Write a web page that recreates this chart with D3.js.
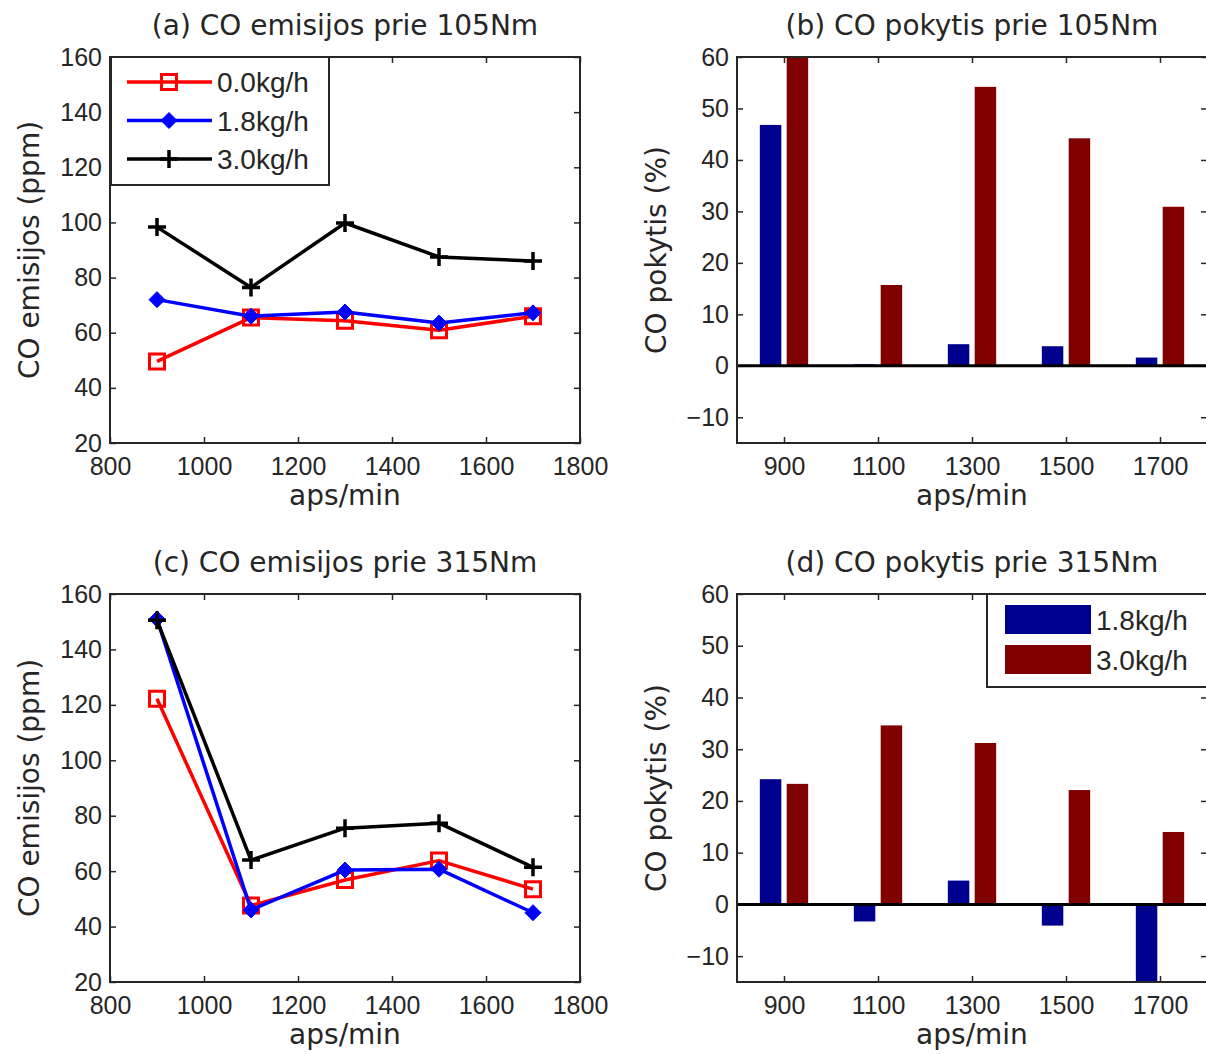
<!DOCTYPE html>
<html>
<head>
<meta charset="utf-8">
<script src="https://cdn.jsdelivr.net/npm/d3@7"></script>
<style>
  html, body { margin: 0; padding: 0; background: #fff; }
</style>
</head>
<body>
<svg id="chart" width="1206" height="1054"></svg>
<script>
// Data
const speeds = [900, 1100, 1300, 1500, 1700]
const flows = ["0.0kg/h", "1.8kg/h", "3.0kg/h"]
const barFlows = ["1.8kg/h", "3.0kg/h"]

const co105_00 = [49.6, 65.5, 64.3, 60.9, 66.0]
const co105_18 = [72.0, 66.0, 67.5, 63.5, 67.2]
const co105_30 = [98.3, 76.4, 99.8, 87.5, 86.0]

const co315_00 = [122.2, 47.6, 56.8, 63.8, 53.5]
const co315_18 = [151.0, 46.0, 60.4, 60.7, 45.0]
const co315_30 = [150.5, 64.0, 75.5, 77.3, 61.4]

const chg105_18 = [46.8, 0.3, 4.2, 3.8, 1.6]
const chg105_30 = [60.5, 15.7, 54.2, 44.2, 30.9]
const chg315_18 = [24.2, -3.3, 4.6, -4.1, -16.0]
const chg315_30 = [23.3, 34.6, 31.2, 22.1, 14.0]

const lineXTicks = [800, 1000, 1200, 1400, 1600, 1800]
const lineYTicks = [20, 40, 60, 80, 100, 120, 140, 160]
const barYTicks = [-10, 0, 10, 20, 30, 40, 50, 60]

// Config
const config = {
  ink: "#262626",
  tickFont: "'Liberation Sans', Arial, sans-serif",
  textFont: "'DejaVu Sans', Verdana, sans-serif",
  tickSize: 25,
  legendSize: 28,
  textSize: 28,
  tick: 6,
  lines: { colors: ["#ff0000", "#0000ff", "#000000"], width: 3.5 },
  bars: { colors: ["#00008f", "#800000"] },
}

const diamond = { draw(ctx, size) { const r = Math.sqrt(size) / 2; ctx.moveTo(0, -r); ctx.lineTo(r, 0); ctx.lineTo(0, r); ctx.lineTo(-r, 0); ctx.closePath() } }
const plus = { draw(ctx, size) { const r = Math.sqrt(size) / 2; ctx.moveTo(-r, 0); ctx.lineTo(r, 0); ctx.moveTo(0, -r); ctx.lineTo(0, r) } }
const markers = [
  { type: d3.symbolSquare, size: 15 * 15, fill: "none", width: 3 },
  { type: diamond, size: 16 * 16, fill: "#0000ff", width: 1 },
  { type: plus, size: 18 * 18, fill: "none", width: 3.5 },
]

const panels = [
  { kind: "line", title: "(a) CO emisijos prie 105Nm", ylabel: "CO emisijos (ppm)", box: { x: 110, y: 57, w: 470, h: 386 }, series: [co105_00, co105_18, co105_30], legend: true },
  { kind: "bar", title: "(b) CO pokytis prie 105Nm", ylabel: "CO pokytis (%)", box: { x: 737, y: 57, w: 470, h: 386 }, series: [chg105_18, chg105_30], legend: false },
  { kind: "line", title: "(c) CO emisijos prie 315Nm", ylabel: "CO emisijos (ppm)", box: { x: 110, y: 594, w: 470, h: 388 }, series: [co315_00, co315_18, co315_30], legend: false },
  { kind: "bar", title: "(d) CO pokytis prie 315Nm", ylabel: "CO pokytis (%)", box: { x: 737, y: 594, w: 470, h: 388 }, series: [chg315_18, chg315_30], legend: true },
]

const svg = d3.select("#chart")

/** Draws ticks on all four sides, labels on bottom and left. */
function frame(g, x, y, xTicks, yTicks, w, h) {
  const style = (s) => {
    s.select(".domain").remove()
    s.selectAll(".tick line").attr("stroke", config.ink).attr("stroke-width", 1.5)
    s.selectAll("text")
      .attr("font-family", config.tickFont)
      .attr("font-size", config.tickSize)
      .attr("fill", config.ink)
  }
  g.append("g").attr("transform", `translate(0,${h})`)
    .call(d3.axisBottom(x).tickValues(xTicks).tickSizeInner(-config.tick).tickSizeOuter(0).tickPadding(14).tickFormat(d3.format("d")))
    .call(style)
  g.append("g")
    .call(d3.axisTop(x).tickValues(xTicks).tickSizeInner(-config.tick).tickSizeOuter(0).tickFormat(""))
    .call(style)
  g.append("g")
    .call(d3.axisLeft(y).tickValues(yTicks).tickSizeInner(-config.tick).tickSizeOuter(0).tickPadding(8))
    .call(style)
  g.append("g").attr("transform", `translate(${w},0)`)
    .call(d3.axisRight(y).tickValues(yTicks).tickSizeInner(-config.tick).tickSizeOuter(0).tickFormat(""))
    .call(style)
}

/** Draws title and axis labels of a panel. */
function labels(p) {
  const { x, y, w, h } = p.box
  svg.append("text")
    .attr("x", x + w / 2).attr("y", y - 22)
    .attr("text-anchor", "middle")
    .attr("font-family", config.textFont).attr("font-size", config.textSize).attr("fill", config.ink)
    .text(p.title)
  svg.append("text")
    .attr("x", x + w / 2).attr("y", y + h + 62)
    .attr("text-anchor", "middle")
    .attr("font-family", config.textFont).attr("font-size", config.textSize).attr("fill", config.ink)
    .text("aps/min")
  svg.append("text")
    .attr("transform", `translate(${x - 71},${y + h / 2}) rotate(-90)`)
    .attr("text-anchor", "middle")
    .attr("font-family", config.textFont).attr("font-size", config.textSize).attr("fill", config.ink)
    .text(p.ylabel)
}

/** Draws a line panel. */
function lineChart(p) {
  const { x: left, y: top, w, h } = p.box
  const g = svg.append("g").attr("transform", `translate(${left},${top})`)
  const x = d3.scaleLinear().domain([800, 1800]).range([0, w])
  const y = d3.scaleLinear().domain([20, 160]).range([h, 0])
  frame(g, x, y, lineXTicks, lineYTicks, w, h)

  // Render series
  p.series.forEach((values, i) => {
    const color = config.lines.colors[i]
    const m = markers[i]
    const D = values.map((v, j) => [speeds[j], v])
    g.append("path")
      .datum(D)
      .attr("d", d3.line().x(d => x(d[0])).y(d => y(d[1])))
      .attr("fill", "none")
      .attr("stroke", color)
      .attr("stroke-width", config.lines.width)
      .attr("stroke-linejoin", "round")
    g.append("g")
      .selectAll("path")
      .data(D)
      .join("path")
      .attr("transform", d => `translate(${x(d[0])},${y(d[1])})`)
      .attr("d", d3.symbol(m.type, m.size))
      .attr("fill", m.fill)
      .attr("stroke", color)
      .attr("stroke-width", m.width)
  })

  // Render legend
  if (p.legend) {
    const lg = g.append("g")
    lg.append("rect")
      .attr("x", 1).attr("y", 0).attr("width", 218).attr("height", 128)
      .attr("fill", "#fff").attr("stroke", config.ink).attr("stroke-width", 2)
    flows.forEach((name, i) => {
      const cy = 25 + i * 38.5
      const m = markers[i]
      lg.append("line")
        .attr("x1", 17).attr("x2", 102).attr("y1", cy).attr("y2", cy)
        .attr("stroke", config.lines.colors[i]).attr("stroke-width", config.lines.width)
      lg.append("path")
        .attr("transform", `translate(59,${cy})`)
        .attr("d", d3.symbol(m.type, m.size))
        .attr("fill", m.fill)
        .attr("stroke", config.lines.colors[i])
        .attr("stroke-width", m.width)
      lg.append("text")
        .attr("x", 107).attr("y", cy)
        .attr("dy", "0.36em")
        .attr("font-family", config.tickFont).attr("font-size", config.legendSize).attr("fill", config.ink)
        .text(name)
    })
  }

  // Box
  g.append("rect")
    .attr("width", w).attr("height", h)
    .attr("fill", "none").attr("stroke", config.ink).attr("stroke-width", 2)
}

/** Draws a grouped bar panel. */
function barChart(p, idx) {
  const { x: left, y: top, w, h } = p.box
  const g = svg.append("g").attr("transform", `translate(${left},${top})`)
  const x = d3.scaleLinear().domain([800, 1800]).range([0, w])
  const y = d3.scaleLinear().domain([-15, 60]).range([h, 0])
  frame(g, x, y, speeds, barYTicks, w, h)

  const clip = `clip-${idx}`
  g.append("clipPath").attr("id", clip)
    .append("rect").attr("width", w).attr("height", h)

  // Render bars (grouped like Matlab: group width 2/3.5 of spacing, bar 0.8 of slot)
  const slot = 200 * (2 / 3.5) / 2
  const bw = slot * 0.8
  const bars = g.append("g").attr("clip-path", `url(#${clip})`)
  p.series.forEach((values, i) => {
    const offset = (i - 0.5) * slot
    bars.append("g")
      .selectAll("rect")
      .data(values.map((v, j) => [speeds[j], v]))
      .join("rect")
      .attr("x", d => x(d[0] + offset - bw / 2))
      .attr("width", x(800 + bw) - x(800))
      .attr("y", d => y(Math.max(0, d[1])))
      .attr("height", d => Math.abs(y(d[1]) - y(0)))
      .attr("fill", config.bars.colors[i])
  })

  // Zero line
  g.append("line")
    .attr("x1", 0).attr("x2", w).attr("y1", y(0)).attr("y2", y(0))
    .attr("stroke", "#000").attr("stroke-width", 3)

  // Render legend
  if (p.legend) {
    const lg = g.append("g").attr("transform", `translate(250,0)`)
    lg.append("rect")
      .attr("x", 0).attr("y", 0).attr("width", 240).attr("height", 93)
      .attr("fill", "#fff").attr("stroke", config.ink).attr("stroke-width", 2)
    barFlows.forEach((name, i) => {
      lg.append("rect")
        .attr("x", 18).attr("y", 11 + i * 40).attr("width", 86).attr("height", 29)
        .attr("fill", config.bars.colors[i])
      lg.append("text")
        .attr("x", 109).attr("y", 26 + i * 40)
        .attr("dy", "0.36em")
        .attr("font-family", config.tickFont).attr("font-size", config.legendSize).attr("fill", config.ink)
        .text(name)
    })
  }

  // Box
  g.append("rect")
    .attr("width", w).attr("height", h)
    .attr("fill", "none").attr("stroke", config.ink).attr("stroke-width", 2)
}

panels.forEach((p, i) => {
  if (p.kind === "line") lineChart(p)
  else barChart(p, i)
  labels(p)
})
</script>
</body>
</html>
